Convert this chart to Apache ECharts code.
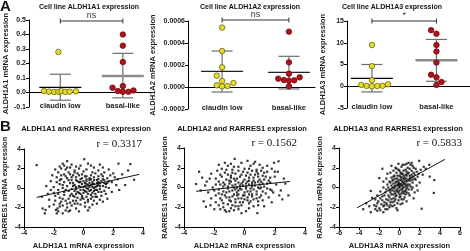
<!DOCTYPE html>
<html>
<head>
<meta charset="utf-8">
<script src="https://cdn.jsdelivr.net/npm/echarts@6/dist/echarts.min.js"></script>
<style>
  html, body { margin: 0; padding: 0; background: #fff; }
  #chart { width: 470px; height: 251px; }
</style>
</head>
<body>
<div id="chart"></div>
<script>
const groups = ['claudin low', 'basal-like']

// panel A: values + horizontal jitter (in category units)
const a1Claudin = [0.28, 0.010, 0.006, 0.004, 0.005, 0.009, 0.004, 0.006, 0.008]
const a1ClaudinJit = [-0.03, -0.26, -0.18, -0.10, -0.03, 0.02, 0.08, 0.15, 0.25]
const a1Basal = [0.40, 0.323, 0.21, 0.044, 0.033, 0.010, 0.005, 0.005, 0.014]
const a1BasalJit = [0, 0, 0, 0, -0.165, -0.08, 0, 0.09, 0.17]
const a1Mean = [0.035, 0.114]
const a1Low = [-0.053, -0.037]
const a1High = [0.126, 0.27]

const a2Claudin = [0.00054, 0.000327, 0.000179, 0.000103, 0.0000545, 0.0000364, 0.000015, 0.000006, 0.000009]
const a2ClaudinJit = [0, 0, 0, -0.08, 0, 0.17, -0.08, 0, 0.08]
const a2Basal = [0.000503, 0.000224, 0.000121, 0.0000758, 0.0000636, 0.0000576, 0.0000606, 0.0000879, 0.000006]
const a2BasalJit = [0, 0, 0, -0.16, -0.075, 0, 0.08, 0.16, 0]
const a2Mean = [0.000142, 0.000133]
const a2Low = [-0.0000455, -0.000018]
const a2High = [0.000327, 0.000279]

const a3Claudin = [9.47, 4.62, 1.36, 0.3, 0.08, 0.0, 0.05, 0.1, 0.45]
const a3ClaudinJit = [0, 0, 0, -0.165, -0.083, 0, 0.083, 0.165, 0.25]
const a3Basal = [12.9, 12.05, 9.47, 8.0, 5.45, 2.65, 2.05, 0.98, 0.3]
const a3BasalJit = [-0.083, 0, 0, 0, 0, -0.083, 0, 0.078, 0]
const a3Mean = [1.82, 5.98]
const a3Low = [-1.3, 1.14]
const a3High = [5.0, 10.76]

// panel B: scatter points (x = ALDH1Ax, y = RARRES1)
const b1Points = [
  [-3.15, 2.35], [-1.1, 2.75], [0.05, 2.95], [2.35, 2.5], [3.15, 2.45], [3.4, 0.85], [-2.75, -2.1], [-2.55, -2.25],
  [-2.6, -2.6], [-2.3, -1.9], [-1.85, -2.25], [-1.8, -2.6], [-1.75, -2.1], [-1.6, -1.9], [-2.4, -0.6], [-2.1, 1.3],
  [-2.8, -0.9], [1.9, 0.6], [2.1, 1.1], [2.6, 1.4], [2.4, -0.2], [1.6, -1.1], [0.9, -1.6], [-0.5, 2.2], [0.7, 2.1],
  [1.3, 2.1], [-1.4, 2.5],
  [-1.5, 2.0], [-1.2, 1.9], [-0.9, 2.1], [-0.6, 1.8], [-0.3, 2.0], [0.2, 1.9], [0.5, 2.3], [1.0, 1.8], [-1.7, 1.6],
  [-1.0, 1.6], [-0.4, 1.5], [0.0, 1.7], [0.8, 1.5], [1.4, 1.6], [-1.3, 1.4], [-0.7, 1.3],
  [-1.8, 1.1], [-1.5, 0.9], [-1.1, 1.0], [-0.8, 0.8], [-0.5, 1.1], [-0.2, 0.9], [0.1, 1.2], [0.4, 1.0], [0.7, 1.1],
  [1.0, 0.9], [1.3, 1.2], [1.6, 1.0], [-1.3, 0.6], [-0.9, 0.5], [-0.3, 0.6], [0.2, 0.7], [0.6, 0.6], [0.9, 0.5],
  [1.2, 0.7], [1.5, 0.4], [-1.6, 0.4], [-0.6, 0.3],
  [-2.0, 0.1], [-1.7, -0.2], [-1.4, 0.0], [-1.1, 0.2], [-0.8, -0.1], [-0.5, 0.1], [-0.2, -0.2], [0.1, 0.2], [0.3, -0.1],
  [0.5, 0.3], [0.8, 0.1], [1.1, -0.1], [1.3, 0.2], [1.7, 0.0], [-0.1, 0.4], [0.4, 0.5], [0.7, -0.3], [1.0, 0.3],
  [-0.4, -0.4], [0.0, -0.5], [0.2, 0.0], [0.6, 0.1], [0.9, -0.2], [-1.0, -0.3], [-0.7, 0.2],
  [-1.9, -0.8], [-1.6, -1.0], [-1.3, -0.7], [-1.0, -1.1], [-0.7, -0.8], [-0.4, -1.0], [-0.1, -0.8], [0.2, -0.9],
  [0.5, -0.7], [0.8, -0.6], [1.2, -0.8], [-1.2, -1.3], [-0.9, -1.5], [-0.5, -1.3], [-0.2, -1.2], [0.3, -1.4],
  [-1.5, -1.4], [-0.8, -0.6], [0.0, -1.1],
  [-1.4, -1.8], [-1.1, -2.0], [-0.8, -1.8], [-0.5, -2.1], [-0.2, -1.7], [0.1, -1.9], [-1.2, -2.3], [-0.6, -1.6],
  [0.4, -2.0], [-1.6, -1.6],
  [0.3, 0.3], [0.5, -0.2], [0.7, 0.4], [0.9, 0.8], [1.1, 0.5], [0.0, 0.1], [-0.3, 0.2], [0.2, -0.4], [0.4, 0.8],
  [1.4, 0.8], [0.6, -0.5], [-0.2, -0.6], [0.8, -0.9], [1.0, -0.4], [-0.6, -0.3], [0.1, 0.5],
  [-1.9, 1.9], [-1.6, 2.2], [-1.3, 2.3], [-0.8, 2.4], [-0.2, 2.3], [0.3, 2.5], [1.1, 2.4], [1.7, 1.9], [2.0, 1.5],
  [2.3, 0.9], [-2.2, 0.7], [-2.0, -0.5], [-2.3, -1.2], [-2.0, -1.7], [-1.9, -1.3], [-1.7, -2.4], [-1.4, -2.6],
  [-0.9, -2.3], [-0.3, -2.4], [0.3, -2.3], [0.7, -1.3], [1.1, -1.2], [1.4, -0.3], [1.6, 0.5], [1.8, 1.3], [1.9, -0.4],
  [2.2, 0.3], [1.2, 1.4], [0.6, 1.6], [-0.1, 1.4], [-0.5, 0.8], [-0.8, 1.1], [-1.2, 1.2], [-1.4, 0.3], [-1.2, -0.2],
  [-0.9, -0.8], [-0.6, -0.9], [-0.3, -0.5], [0.1, -0.3], [0.4, 0.1], [0.7, 0.8], [1.0, 1.2], [1.3, 0.9], [1.5, 0.1],
  [1.2, -0.4], [0.9, 0.2], [0.5, 0.9], [0.2, 1.2], [-0.1, 1.0], [-0.4, 0.7], [-0.7, 0.5], [-1.0, 0.8], [-1.5, 1.3],
  [-1.8, 0.6], [-1.7, -0.6], [-1.4, -1.1], [-1.1, -1.6], [-0.7, -1.3], [-0.4, -1.6], [0.1, -1.5], [0.5, -1.1],
  [0.9, -0.9], [0.3, -0.6], [0.0, -0.2], [-0.2, 0.1], [0.2, 0.4], [0.6, 0.4], [0.8, -0.2], [1.1, 0.2], [1.4, 0.5],
  [0.4, -0.3], [0.7, 0.0], [1.0, 0.6], [0.2, 0.9], [-0.3, 1.3], [-0.6, 1.6], [-1.1, 2.1], [-0.9, 1.4], [-1.6, 0.8],
  [-1.3, -0.4], [-0.5, -0.6], [-0.1, -1.0], [0.3, -1.2], [0.6, -0.9], [1.5, -0.6], [1.7, 0.7], [0.5, 1.3], [-0.2, 0.6],
  [-0.5, -0.1], [0.0, 0.7], [-2.5, 0.2], [-2.2, -0.2], [2.8, 0.3], [3.0, 1.8], [-1.0, -2.4], [0.6, -1.7], [1.3, -1.4]
]
const b1Fit = [[-3.15, -0.96], [3.75, 1.4]]

const b2Points = [
  [-0.65, 2.9], [-3.0, 1.6], [-3.2, 0.35], [2.25, 2.65], [1.95, 2.5], [2.9, -0.8], [0.85, -2.6], [-2.55, -1.95],
  [-2.25, -1.8], [-2.9, -0.3], [-2.5, 0.6], [2.6, 0.9], [2.4, -0.3], [2.2, 1.6], [-2.2, 1.4], [1.8, -1.5],
  [2.5, -1.2], [-2.0, -2.2], [-1.2, -2.45], [0.3, -2.1],
  [-1.5, 1.9], [-1.1, 2.2], [-0.8, 1.8], [-0.4, 2.1], [0.0, 1.9], [0.4, 2.2], [0.8, 1.8], [1.2, 2.0], [-1.3, 1.5],
  [-0.6, 1.4], [0.2, 1.5], [0.9, 1.4], [1.5, 1.6], [-1.8, 1.7], [0.6, 2.4],
  [-1.9, 0.9], [-1.5, 1.1], [-1.2, 0.8], [-0.9, 1.0], [-0.6, 0.7], [-0.3, 1.1], [0.0, 0.8], [0.3, 1.0], [0.6, 0.7],
  [0.9, 1.1], [1.3, 0.8], [1.7, 1.0], [-1.4, 0.5], [-1.0, 0.4], [-0.4, 0.5], [0.1, 0.4], [0.5, 0.5], [1.0, 0.3],
  [1.5, 0.4], [-0.8, 0.2],
  [-2.1, 0.0], [-1.7, -0.2], [-1.4, 0.1], [-1.1, -0.1], [-0.8, -0.3], [-0.5, 0.0], [-0.2, -0.2], [0.1, 0.1],
  [0.4, -0.1], [0.7, 0.2], [1.0, -0.1], [1.3, 0.1], [1.7, -0.2], [-0.6, 0.3], [0.2, -0.4], [-1.2, -0.5], [0.8, -0.4],
  [-0.3, 0.2], [0.5, 0.3], [1.1, 0.6],
  [-1.9, -0.8], [-1.6, -1.1], [-1.3, -0.8], [-1.0, -1.0], [-0.7, -0.7], [-0.4, -1.1], [-0.1, -0.8], [0.2, -1.0],
  [0.5, -0.7], [0.8, -1.1], [1.1, -0.8], [1.4, -0.6], [-0.9, -1.4], [-0.3, -1.5], [0.4, -1.4], [1.2, -1.3],
  [-1.5, -1.3], [0.0, -0.5],
  [-1.7, -1.8], [-1.4, -2.0], [-1.1, -1.7], [-0.9, -2.1], [-0.6, -1.9], [-1.3, -2.3], [-0.2, -1.8], [0.6, -1.9],
  [-0.7, -2.3], [1.3, -1.9],
  [-0.5, -0.5], [-0.1, 0.6], [0.3, 0.7], [-0.7, 0.9], [0.6, -0.2], [-1.0, 0.7], [0.9, 0.6], [-0.2, 1.3], [0.3, -0.7],
  [-0.6, -1.2], [1.2, 1.2], [0.0, -1.2], [-1.6, 0.3], [0.7, 1.3], [-0.4, -0.3],
  [-1.7, 2.3], [-1.3, 2.5], [-0.9, 2.4], [-0.2, 2.5], [0.2, 2.7], [1.0, 2.3], [1.5, 2.2], [1.8, 1.9], [2.0, 1.1],
  [2.1, 0.3], [-2.3, 0.9], [-2.4, -0.5], [-2.2, -1.1], [-2.6, 0.2], [-1.9, -1.5], [-1.6, -2.2], [-1.0, -2.4],
  [-0.4, -2.2], [0.1, -2.4], [0.9, -1.8], [1.6, -1.0], [1.9, -0.5], [1.7, 0.5], [2.0, 1.6], [1.3, 1.5], [0.5, 1.7],
  [-0.1, 1.6], [-0.8, 1.5], [-1.1, 1.3], [-1.6, 1.3], [-1.7, 0.6], [-1.3, 0.3], [-0.9, 0.6], [-0.5, 0.9], [-0.2, 0.4],
  [0.2, 0.6], [0.6, 1.0], [1.0, 0.8], [1.4, 1.1], [1.2, 0.4], [0.9, 0.0], [0.5, 0.1], [0.1, -0.1], [-0.3, -0.1],
  [-0.7, 0.0], [-1.0, -0.4], [-1.4, -0.4], [-1.7, -0.6], [-1.2, -1.0], [-0.8, -0.9], [-0.4, -0.7], [0.0, -0.8],
  [0.4, -0.4], [0.8, -0.7], [1.2, -0.4], [1.5, -0.1], [1.0, -1.0], [0.6, -1.2], [0.2, -1.3], [-0.2, -1.1], [-0.6, -1.5],
  [-1.0, -1.3], [-1.4, -1.6], [-0.8, -1.8], [-0.4, -1.9], [0.3, -1.6], [0.9, -1.4], [-1.9, 0.3], [-2.0, -0.3],
  [-1.5, -0.7], [-0.6, -0.2], [-0.1, 0.2], [0.3, 0.3], [0.7, 0.5], [1.1, 0.0], [0.4, 1.3], [-0.4, 1.7], [-0.9, 1.2],
  [0.1, 1.2], [0.8, 1.6], [-1.2, 1.8], [-0.7, 2.1], [0.3, 1.9], [1.1, 1.7], [1.6, 0.7], [1.8, -0.3], [-0.1, -1.5],
  [0.5, -0.9], [-0.5, -0.8], [-1.1, 0.1], [-2.7, -1.4], [-2.8, 1.0], [2.7, 0.4], [2.3, -0.8], [-0.2, -2.6], [0.7, 2.6]
]
const b2Fit = [[-3.2, -0.38], [3.0, 0.61]]

const b3Points = [
  [-2.85, -2.5], [-2.2, -2.35], [2.2, -2.15], [3.4, -0.55], [3.45, 0.75], [1.95, 2.7], [-1.7, 1.9], [-2.0, 0.95],
  [-2.85, -0.35], [-2.7, -1.05], [2.95, 2.3], [-3.3, -1.6], [-1.6, -2.5], [2.6, 1.9], [2.3, 1.3], [-0.8, 2.2],
  [-1.2, 1.4],
  [-2.3, -1.9], [-2.0, -2.1], [-1.8, -1.7], [-2.1, -1.4], [-1.6, -1.9], [-1.4, -2.2], [-1.5, -1.5], [-1.2, -1.8],
  [-1.0, -2.0], [-1.9, -1.1], [-1.3, -1.2], [-1.7, -0.9], [-0.9, -1.5], [-0.7, -1.9], [-1.1, -0.8], [-0.5, -1.4],
  [-0.3, -2.1], [-0.6, -1.1],
  [-1.4, -0.5], [-1.0, -0.3], [-0.8, -0.7], [-0.5, -0.4], [-0.3, -0.8], [-0.1, -0.5], [0.1, -0.9], [0.3, -0.4],
  [-0.7, 0.0], [-0.4, 0.2], [-0.2, -0.1], [0.0, 0.1], [0.2, -0.2], [0.4, 0.0], [0.6, -0.3], [0.8, 0.1], [-1.2, 0.3],
  [-0.9, 0.5], [-0.6, 0.4], [-0.3, 0.6], [0.0, 0.4], [0.2, 0.7], [0.5, 0.4], [0.7, 0.6], [1.0, 0.3], [1.2, -0.2],
  [0.9, -0.6], [0.5, -1.0], [-0.1, -1.3], [0.3, -1.6], [-1.6, 0.0], [1.5, -0.5],
  [-0.8, 1.0], [-0.5, 1.2], [-0.2, 0.9], [0.1, 1.1], [0.4, 0.9], [0.7, 1.2], [1.0, 0.9], [1.3, 1.1], [-0.3, 1.5],
  [0.0, 1.7], [0.3, 1.4], [0.6, 1.8], [0.9, 1.5], [1.2, 1.7], [1.5, 1.3], [-0.4, 2.0], [0.2, 2.1], [0.5, 2.3],
  [0.8, 2.0], [1.1, 2.3], [1.4, 2.0], [1.7, 1.6], [-0.1, 2.4], [0.9, 2.5], [1.6, 0.8], [1.8, 1.1], [1.3, 0.5],
  [0.1, 0.3], [-0.2, 0.3], [0.3, 0.2], [0.5, 0.8], [-0.5, -0.1], [0.0, -0.3], [0.4, -0.6], [-0.4, -0.6], [0.6, 0.1],
  [0.2, 1.0], [-0.6, 0.8], [-0.9, -0.2], [0.7, -0.1], [1.1, 0.7], [-0.1, 0.7],
  [-2.5, -1.8], [-2.4, -2.2], [-2.2, -1.6], [-1.9, -2.3], [-1.7, -1.3], [-1.5, -1.8], [-1.3, -1.6], [-1.2, -2.2],
  [-1.1, -1.3], [-0.9, -1.8], [-0.8, -1.2], [-0.7, -1.5], [-0.5, -1.8], [-0.4, -1.2], [-0.2, -1.6], [0.0, -1.0],
  [0.1, -1.7], [0.2, -1.2], [0.4, -1.2], [0.6, -0.7], [-1.5, -0.8], [-1.3, -0.2], [-1.1, 0.0], [-0.9, -0.5],
  [-0.7, -0.3], [-0.6, -0.7], [-0.4, -0.9], [-0.2, -0.4], [0.0, -0.7], [0.2, -0.6], [0.3, -0.1], [0.5, -0.4],
  [0.7, -0.5], [0.9, -0.2], [1.1, 0.1], [1.3, 0.0], [1.0, -0.8], [0.8, 0.3], [0.6, 0.3], [0.4, 0.4], [0.2, 0.2],
  [0.0, 0.0], [-0.1, 0.2], [-0.3, -0.3], [-0.5, 0.1], [-0.8, 0.2], [-1.0, 0.6], [-0.7, 0.7], [-0.4, 0.5], [-0.1, 0.5],
  [0.1, 0.8], [0.3, 0.6], [0.5, 1.0], [0.7, 0.9], [0.9, 0.7], [1.1, 1.0], [1.3, 0.8], [1.5, 0.9], [1.4, 1.5],
  [1.2, 1.3], [1.0, 1.2], [0.8, 1.4], [0.6, 1.3], [0.4, 1.2], [0.2, 1.4], [0.0, 1.2], [-0.2, 1.2], [-0.4, 0.9],
  [-0.6, 1.1], [-0.1, 1.8], [0.1, 1.5], [0.4, 1.7], [0.7, 1.6], [1.0, 1.9], [1.3, 2.2], [1.6, 1.9], [1.9, 1.4],
  [2.1, 1.8], [0.3, 2.3], [0.7, 2.4], [1.2, 2.5], [-0.3, 1.9], [-0.6, 1.7], [-0.9, 1.5], [-1.3, 0.9], [-1.6, 0.6],
  [-1.9, -0.4], [-2.2, -0.8], [-2.4, -1.2], [-1.0, -1.0], [1.7, 0.2], [2.0, 0.5], [1.8, -0.3], [-0.2, -2.3],
  [0.7, -1.4], [1.4, -1.1], [2.4, 2.1], [3.0, 1.1], [-3.6, -2.2], [-3.0, -1.9]
]
const b3Fit = [[-4.2, -2.05], [4.5, 2.85]]

const FONT = '"Liberation Sans", Arial, sans-serif'
const YELLOW = '#e4dc2c'
const RED = '#b3121c'

function jitter(values, jit, center) {
  return values.map((v, i) => [center + jit[i], v])
}

function dotAxisX(i, min, max) {
  return {
    gridIndex: i, type: 'value', min: min, max: max,
    axisLine: { show: true, onZero: true, lineStyle: { color: '#000', width: 1.2 } },
    axisTick: { show: false },
    splitLine: { show: false },
    axisLabel: {
      customValues: [1, 2], margin: -5,
      formatter: v => groups[Math.round(v) - 1] || '',
      fontSize: 7.5, fontWeight: 'bold', fontFamily: FONT, color: '#222'
    }
  }
}

function dotAxisY(i, min, max, interval, name, gap, digits) {
  return {
    gridIndex: i, type: 'value', min: min, max: max, interval: interval,
    name: name, nameLocation: 'middle', nameGap: gap, nameRotate: 90,
    nameTextStyle: { fontSize: 7.5, fontWeight: 'bold', fontFamily: FONT, color: '#222' },
    axisLine: { show: true, lineStyle: { color: '#000', width: 1 } },
    axisTick: { show: true, length: 3, lineStyle: { color: '#000' } },
    splitLine: { show: false },
    axisLabel: {
      margin: 3, fontSize: 7, fontWeight: 'bold', fontFamily: FONT, color: '#222',
      formatter: v => v.toFixed(digits)
    }
  }
}

function scatAxis(i, min, max, name, isX) {
  const ax = {
    gridIndex: i, type: 'value', min: min, max: max, interval: 2,
    name: name, nameLocation: 'middle', nameGap: isX ? 15 : 15,
    nameTextStyle: { fontSize: 7.5, fontWeight: 'bold', fontFamily: FONT, color: '#222' },
    axisLine: { show: true, onZero: false, lineStyle: { color: '#000', width: 1 } },
    axisTick: { show: true, length: 3, lineStyle: { color: '#000' } },
    splitLine: { show: false },
    axisLabel: { margin: 3, fontSize: 7, fontWeight: 'bold', fontFamily: FONT, color: '#222' }
  }
  if (!isX) ax.nameRotate = 90
  return ax
}

function errorSeries(i, mean, low, high, meanColors, meanWidths) {
  return {
    type: 'custom', xAxisIndex: i, yAxisIndex: i, z: 1, silent: true,
    data: mean.map((m, k) => [k + 1, m, low[k], high[k]]),
    renderItem(params, api) {
      const x = api.value(0)
      const pm = api.coord([x, api.value(1)])
      const pl = api.coord([x, api.value(2)])
      const ph = api.coord([x, api.value(3)])
      const k = params.dataIndex
      const bar = { stroke: '#6e6e6e', lineWidth: 1.2 }
      return {
        type: 'group',
        children: [
          { type: 'line', shape: { x1: pl[0], y1: pl[1], x2: ph[0], y2: ph[1] }, style: bar },
          { type: 'line', shape: { x1: pl[0] - 10.5, y1: pl[1], x2: pl[0] + 10.5, y2: pl[1] }, style: bar },
          { type: 'line', shape: { x1: ph[0] - 10.5, y1: ph[1], x2: ph[0] + 10.5, y2: ph[1] }, style: bar },
          {
            type: 'line', shape: { x1: pm[0] - 21, y1: pm[1], x2: pm[0] + 21, y2: pm[1] },
            style: { stroke: meanColors[k], lineWidth: meanWidths[k] }
          }
        ]
      }
    }
  }
}

function dotSeries(i, data, color, border) {
  return {
    type: 'scatter', xAxisIndex: i, yAxisIndex: i, z: 3, data: data,
    symbol: 'circle', symbolSize: 5.5,
    itemStyle: { color: color, borderColor: border, borderWidth: 0.8, opacity: 1 }
  }
}

function bracketSeries(i, y, label, size) {
  return {
    type: 'custom', xAxisIndex: i, yAxisIndex: i, z: 2, silent: true, clip: false,
    data: [[1, 2, y]],
    renderItem(params, api) {
      const p1 = api.coord([api.value(0), api.value(2)])
      const p2 = api.coord([api.value(1), api.value(2)])
      const st = { stroke: '#333', lineWidth: 1 }
      return {
        type: 'group',
        children: [
          { type: 'line', shape: { x1: p1[0], y1: p1[1], x2: p2[0], y2: p2[1] }, style: st },
          { type: 'line', shape: { x1: p1[0], y1: p1[1] - 2.5, x2: p1[0], y2: p1[1] + 2.5 }, style: st },
          { type: 'line', shape: { x1: p2[0], y1: p2[1] - 2.5, x2: p2[0], y2: p2[1] + 2.5 }, style: st },
          {
            type: 'text', x: (p1[0] + p2[0]) / 2, y: p1[1] - 1,
            style: { text: label, textAlign: 'center', textVerticalAlign: 'bottom', fill: '#333', font: size + 'px ' + FONT }
          }
        ]
      }
    }
  }
}

function pointSeries(i, data, fit) {
  return [{
    type: 'scatter', xAxisIndex: i, yAxisIndex: i, data: data, z: 2,
    symbol: 'rect', symbolSize: 2.2, itemStyle: { color: '#000' }
  }, {
    type: 'line', xAxisIndex: i, yAxisIndex: i, data: fit, z: 3,
    symbol: 'none', lineStyle: { color: '#111', width: 1 }
  }]
}

function text(x, y, str, font, align) {
  return {
    type: 'text', x: x, y: y, silent: true,
    style: { text: str, font: font, fill: '#111', textAlign: align || 'center', textVerticalAlign: 'middle' }
  }
}

const chart = echarts.init(document.getElementById('chart'), null, { renderer: 'canvas' })

chart.setOption({
  animation: false,
  backgroundColor: '#fff',
  grid: [
    { left: 29, top: 20, width: 122, height: 87 },
    { left: 188, top: 21, width: 127, height: 88 },
    { left: 347, top: 21, width: 123, height: 87 },
    { left: 24, top: 149, width: 119, height: 78 },
    { left: 184, top: 148, width: 121, height: 81 },
    { left: 339, top: 148, width: 121, height: 80 }
  ],
  xAxis: [
    dotAxisX(0, 0.5, 2.45),
    dotAxisX(1, 0.49, 2.39),
    dotAxisX(2, 0.614, 2.52),
    scatAxis(3, -4, 4, 'ALDH1A1 mRNA expression', true),
    scatAxis(4, -4, 4, 'ALDH1A2 mRNA expression', true),
    scatAxis(5, -6, 6, 'ALDH1A3 mRNA expression', true)
  ],
  yAxis: [
    dotAxisY(0, -0.1, 0.5, 0.1, 'ALDH1A1 mRNA expression', 18, 1),
    dotAxisY(1, -0.0002, 0.0006, 0.0002, 'ALDH1A2 mRNA expression', 27, 4),
    dotAxisY(2, -5, 15, 5, 'ALDH1A3 mRNA expression', 20, 0),
    scatAxis(3, -4, 4, 'RARRES1 mRNA expression', false),
    scatAxis(4, -4, 4, 'RARRES1 mRNA expression', false),
    scatAxis(5, -4, 4, 'RARRES1 mRNA expression', false)
  ],
  graphic: [
    text(0, 7, 'A', 'bold 15px ' + FONT, 'left'),
    text(0, 127, 'B', 'bold 15px ' + FONT, 'left'),
    text(89, 7, 'Cell line ALDH1A1 expression', 'bold 7px ' + FONT),
    text(250, 7, 'Cell line ALDH1A2 expression', 'bold 7px ' + FONT),
    text(392, 7, 'Cell line ALDH1A3 expression', 'bold 7px ' + FONT),
    text(86, 129, 'ALDH1A1 and RARRES1 expression', 'bold 7.5px ' + FONT),
    text(242, 129, 'ALDH1A2 and RARRES1 expression', 'bold 7.5px ' + FONT),
    text(398, 129, 'ALDH1A3 and RARRES1 expression', 'bold 7.5px ' + FONT),
    text(142, 144, 'r = 0.3317', '11px "Liberation Serif", "Times New Roman", serif', 'right'),
    text(297, 143, 'r = 0.1562', '11px "Liberation Serif", "Times New Roman", serif', 'right'),
    text(462, 143, 'r = 0.5833', '11px "Liberation Serif", "Times New Roman", serif', 'right')
  ],
  series: [
    errorSeries(0, a1Mean, a1Low, a1High, ['#000', '#8c8c8c'], [1.3, 2.5]),
    dotSeries(0, jitter(a1Claudin, a1ClaudinJit, 1), YELLOW, '#6b6410'),
    dotSeries(0, jitter(a1Basal, a1BasalJit, 2), RED, '#6e0a10'),
    bracketSeries(0, 0.493, 'ns', 9),

    errorSeries(1, a2Mean, a2Low, a2High, ['#222', '#222'], [1.3, 1.3]),
    dotSeries(1, jitter(a2Claudin, a2ClaudinJit, 1), YELLOW, '#6b6410'),
    dotSeries(1, jitter(a2Basal, a2BasalJit, 2), RED, '#6e0a10'),
    bracketSeries(1, 0.000609, 'ns', 9),

    errorSeries(2, a3Mean, a3Low, a3High, ['#000', '#8c8c8c'], [1.3, 2.5]),
    dotSeries(2, jitter(a3Claudin, a3ClaudinJit, 1), YELLOW, '#6b6410'),
    dotSeries(2, jitter(a3Basal, a3BasalJit, 2), RED, '#6e0a10'),
    bracketSeries(2, 15, '*', 9),

    ...pointSeries(3, b1Points, b1Fit),
    ...pointSeries(4, b2Points, b2Fit),
    ...pointSeries(5, b3Points, b3Fit)
  ]
})
</script>
</body>
</html>
